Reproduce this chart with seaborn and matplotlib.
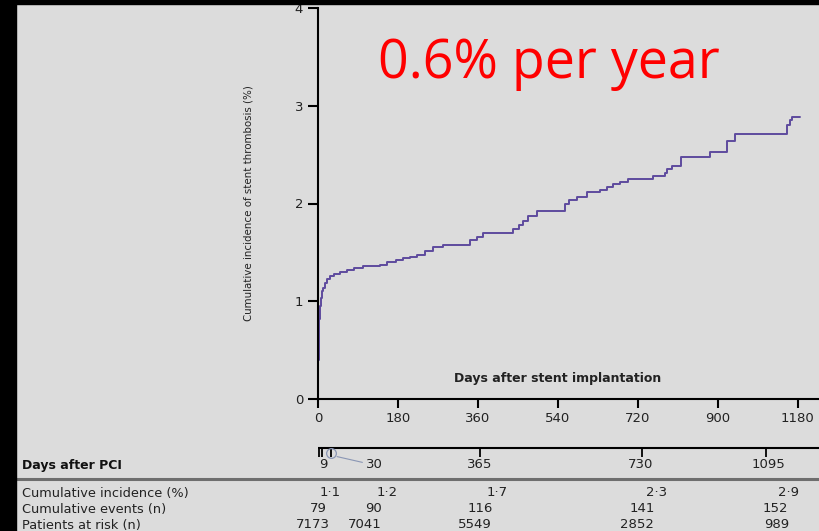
import numpy as np
import pandas as pd
import matplotlib
matplotlib.use("Agg")
import matplotlib.pyplot as plt
import matplotlib.transforms as mtransforms
from matplotlib.patches import Rectangle
import seaborn as sns

# ---------------- data ----------------
event_days = [0, 1, 2, 3, 5, 7, 9, 12, 16, 21, 27, 36, 50, 66, 82, 101, 140, 155, 175,
              191, 206, 222, 240, 259, 281, 342, 357, 372, 439, 452, 461, 473, 493, 556,
              565, 583, 605, 635, 650, 664, 680, 698, 754, 781, 785, 797, 817, 882, 920,
              938, 1055, 1062, 1066, 1085]
cum_incidence_pct = [0.0, 0.40, 0.65, 0.82, 0.95, 1.03, 1.10, 1.14, 1.19, 1.23, 1.26, 1.28,
                     1.30, 1.32, 1.34, 1.36, 1.37, 1.40, 1.42, 1.44, 1.45, 1.47, 1.51, 1.55,
                     1.58, 1.63, 1.66, 1.70, 1.74, 1.78, 1.82, 1.87, 1.92, 2.00, 2.04, 2.07,
                     2.12, 2.14, 2.17, 2.20, 2.22, 2.25, 2.28, 2.31, 2.35, 2.38, 2.48, 2.53,
                     2.64, 2.71, 2.80, 2.85, 2.89, 2.89]

x_ticks = [0, 180, 360, 540, 720, 900, 1080]
x_tick_labels = ["0", "180", "360", "540", "720", "900", "1180"]
y_ticks = [0, 1, 2, 3, 4]

table_days = ["9", "30", "365", "730", "1095"]
table_cum_incidence = ["1·1", "1·2", "1·7", "2·3", "2·9"]
table_cum_events = ["79", "90", "116", "141", "152"]
table_at_risk = ["7173", "7041", "5549", "2852", "989"]
row_labels = ["Cumulative incidence (%)", "Cumulative events (n)", "Patients at risk (n)"]

# ---------------- layout (days on the main x scale / pixel rows) ----------------
W, H = 820, 531
ax_left, ax_right, ax_bottom_px, ax_top_px = 318, 820, 399, 8
xmax = 1130
pci_tick_pos = [2, 9, 29, 365, 729, 1008]
pci_label_pos = [11, 128, 365, 726, 1013]
inc_pos = [27, 155, 403, 763, 1060]
evt_pos = [0, 126, 365, 729, 1029]
risk_pos = [-11, 106, 353, 718, 1033]

BG = "#dcdcdc"
LINE = "#5e4b9e"

sns.set_theme(style="ticks")
plt.rcParams["font.family"] = ["DejaVu Sans"]
plt.rcParams["axes.facecolor"] = BG
plt.rcParams["figure.facecolor"] = BG

fig = plt.figure(figsize=(W / 100, H / 100), dpi=100)

# black frame bands
fig.add_artist(Rectangle((0, 0), 16 / W, 1, transform=fig.transFigure, color="black", zorder=10))
fig.add_artist(Rectangle((0, 1 - 4 / H), 1, 4 / H, transform=fig.transFigure, color="black", zorder=10))

ax = fig.add_axes([ax_left / W, (H - ax_bottom_px) / H, (ax_right - ax_left) / W,
                   (ax_bottom_px - ax_top_px) / H])
ax.set_facecolor(BG)
df = pd.DataFrame({"day": event_days, "inc": cum_incidence_pct})
sns.lineplot(data=df, x="day", y="inc", drawstyle="steps-post", estimator=None, sort=False,
             color=LINE, linewidth=1.4, ax=ax)
ax.set_xlim(0, xmax)
ax.set_ylim(0, 4)
sns.despine(ax=ax)
for s in ("left", "bottom"):
    ax.spines[s].set_color("black")
    ax.spines[s].set_linewidth(1.5)
ax.set_xticks(x_ticks)
ax.set_xticklabels(x_tick_labels)
ax.set_yticks(y_ticks)
ax.tick_params(axis="both", direction="out", width=1.5, colors="black", labelsize=9.5,
               labelcolor="#222222")
ax.tick_params(axis="x", length=6.5, pad=3)
ax.tick_params(axis="y", length=7.2, pad=3.5)
ax.set_xlabel("")
ax.set_ylabel("Cumulative incidence of stent thrombosis (%)", fontsize=7.4, color="#222222")
ax.yaxis.set_label_coords((254 - ax_left) / (ax_right - ax_left), 0.5)
ax.text(540, 0.205, "Days after stent implantation", ha="center", va="center",
        fontsize=9, fontweight="bold", color="#222222")

fig.text(378 / W, 1 - 78 / H, "0.6% per year", family="Open Sans", fontsize=38.7,
         color="#ff0000", va="baseline", ha="left")

# ---------------- table ----------------
k = (ax_right - ax_left) / xmax
ax_t = fig.add_axes([0, 0, 1, 95 / H])
ax_t.set_xlim(-ax_left / k, (W - ax_left) / k)
ax_t.set_ylim(H, H - 95)
ax_t.axis("off")

ax_t.hlines(448, 0, xmax * 1.2, color="black", lw=1.5)
ax_t.vlines(pci_tick_pos, 448, 457, color="black", lw=1.3)
ax_t.plot([pci_tick_pos[2]], [453], marker="o", ms=7, mfc="none", mec="#8a96b4", mew=0.9)
for i, (lab, pos) in enumerate(zip(table_days, pci_label_pos)):
    ax_t.text(pos, 465, lab, ha="center", va="center", fontsize=9.5, color="#222222")
ax_t.annotate("", xy=(pci_tick_pos[2] + 8, 456), xytext=(pci_label_pos[1] - 22, 463),
              arrowprops=dict(arrowstyle="-", color="#8a96b4", lw=0.8))
ax_t.hlines(479, -ax_left / k + 16 / k, xmax * 1.2, color="#6e6e6e", lw=2.2)

blend = mtransforms.blended_transform_factory(fig.transFigure, ax_t.transData)
ax_t.text(22 / W, 465, "Days after PCI", transform=blend, ha="left", va="center",
          fontsize=9, fontweight="bold", color="#111111")
row_y = [493, 509, 525]
for lab, y in zip(row_labels, row_y):
    ax_t.text(22 / W, y, lab, transform=blend, ha="left", va="center", fontsize=9.3,
              color="#222222")
for vals, poss, y in ((table_cum_incidence, inc_pos, row_y[0]),
                      (table_cum_events, evt_pos, row_y[1]),
                      (table_at_risk, risk_pos, row_y[2])):
    for v, p in zip(vals, poss):
        ax_t.text(p, y, v, ha="center", va="center", fontsize=9.5, color="#222222")

fig.savefig("out.png", dpi=100, facecolor=BG)
